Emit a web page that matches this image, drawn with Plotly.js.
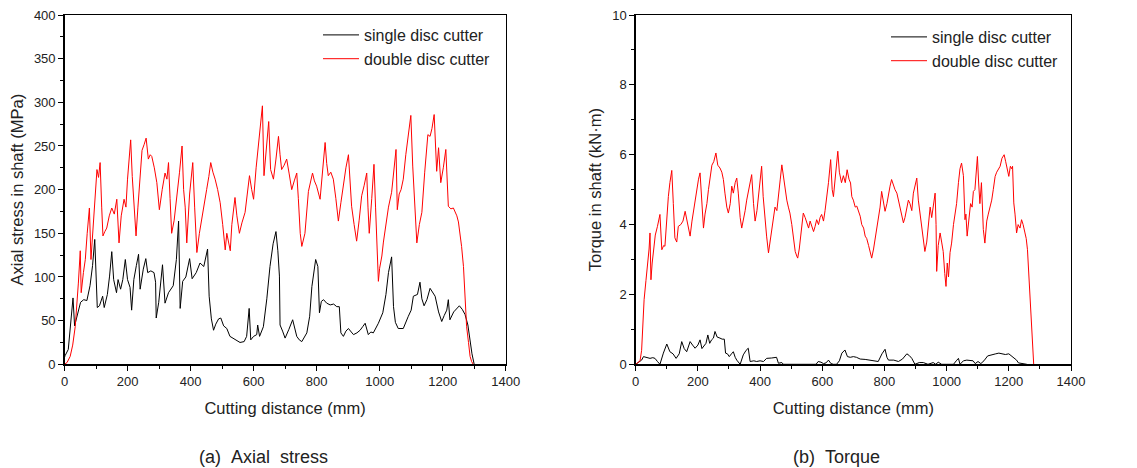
<!DOCTYPE html>
<html><head><meta charset="utf-8">
<script src="https://cdn.plot.ly/plotly-3.0.1.min.js"></script>
<style>html,body{margin:0;padding:0;background:#fff}#chart{width:1137px;height:468px}</style>
</head><body><div id="chart"></div>
<script>
// (a) Axial stress — single disc cutter
const stressSingleX = [0,2,12,20,27,32,42,51,61,71,81,89,96,101,104,111,121,126,136,143,150,156,165,170,178,185,193,200,208,213,220,228,235,240,250,258,264,274,284,289,291,299,311,319,330,345,355,362,367,375,385,397,405,418,430,442,454,459,466,473,480,489,496,505,515,525,541,557,570,578,586,591,600,610,613,619,631,642,652,662,671,677,682,684,692,700,712,724,737,745,753,769,778,785,797,804,809,815,822,832,843,854,864,872,877,885,893,901,910,917,928,938,946,954,964,972,980,996,1010,1020,1028,1038,1044,1050,1059,1075,1091,1100,1107,1120,1128,1134,1141,1150,1160,1168,1176,1187,1197,1205,1213,1218,1223,1235,1245,1253,1262,1271,1280,1287,1293,1300];
const stressSingleY = [8,10,17,45,76,44,59,71,74,73,90,113,143,101,65,67,78,65,80,101,129,97,82,97,86,97,120,97,88,62,97,113,126,86,109,121,105,107,105,94,53,71,114,70,82,90,120,164,64,95,100,121,98,105,116,112,132,78,52,39,46,52,53,44,41,32,28,25,26,32,64,28,32,34,45,32,43,75,112,138,152,130,101,45,38,30,40,51,32,28,26,36,55,89,120,112,59,72,74,70,68,69,66,66,36,32,38,41,37,34,36,39,43,47,34,37,36,47,59,80,105,123,66,48,41,41,55,62,78,80,94,75,67,74,87,82,78,60,49,56,62,74,51,60,64,67,63,57,45,24,12,0];
// (a) Axial stress — double disc cutter
const stressDoubleX = [0,8,18,26,34,40,44,50,53,60,66,72,79,84,92,103,108,113,118,122,128,134,142,150,158,166,173,180,189,195,200,205,210,215,219,227,233,240,246,253,259,266,272,277,285,293,301,310,319,325,330,335,340,348,356,365,373,378,383,388,397,407,413,420,428,436,444,451,458,464,471,478,486,494,502,510,515,520,526,531,536,541,547,555,563,573,580,587,594,600,608,615,622,628,633,641,648,654,663,671,679,684,689,697,705,713,721,729,737,742,748,753,758,763,774,781,787,793,800,811,819,827,832,837,845,853,861,869,877,885,893,901,906,911,919,927,935,943,951,959,963,967,975,982,987,991,996,1000,1007,1012,1018,1028,1038,1046,1052,1056,1062,1068,1075,1083,1091,1099,1105,1112,1118,1126,1134,1143,1153,1160,1166,1173,1181,1187,1194,1202,1210,1218,1226,1234,1240,1245,1250,1255,1260,1266,1271,1276,1282,1287,1292,1297];
const stressDoubleY = [0,2,9,22,43,70,93,130,82,105,120,150,179,120,160,223,214,231,180,147,152,156,170,179,172,189,139,170,189,180,212,235,257,215,189,147,180,219,245,252,259,235,240,238,225,208,177,200,219,212,231,190,150,165,189,220,250,200,180,139,195,231,180,128,150,166,185,200,215,231,220,212,200,185,160,131,150,140,130,160,177,191,170,150,162,174,195,216,200,189,225,250,270,296,216,250,278,223,212,235,261,240,223,228,235,218,200,210,219,190,150,135,142,150,198,210,219,210,204,189,225,254,230,216,220,212,190,164,185,206,225,240,210,181,160,141,165,193,205,219,180,150,190,229,180,131,95,110,124,140,154,180,197,230,246,177,195,200,212,240,260,285,227,180,139,160,174,220,263,261,270,286,221,248,208,225,246,181,178,179,175,170,163,151,135,112,80,43,25,9,3,0];
// (b) Torque — single disc cutter
const torqueSingleX = [
  0,19,25,35,46,55,62,70,78,89,
  100,110,120,130,140,148,156,164,170,175,
  183,191,200,207,213,218,226,232,238,244,
  250,255,262,271,278,285,289,295,301,308,
  314,320,325,336,346,355,362,368,380,389,
  400,411,421,437,453,459,470,475,580,587,
  596,604,612,620,628,636,646,655,663,673,
  681,690,700,710,722,738,754,768,780,792,
  802,808,813,830,845,858,872,880,888,898,
  912,925,940,957,965,973,984,1000,1022,1031,
  1038,1043,1054,1065,1075,1085,1092,1101,1110,1120,
  1132,1145,1158,1168,1178,1189,1200,1212,1225,1231,
  1240,1249,1258];
const torqueSingleY = [
  0,0.12,0.22,0.2,0.17,0.19,0.17,0.08,0,0.32,
  0.58,0.36,0.3,0.17,0.3,0.65,0.45,0.36,0.5,0.65,
  0.55,0.46,0.55,0.7,0.45,0.51,0.6,0.84,0.6,0.7,
  0.75,0.94,0.78,0.75,0.72,0.72,0.32,0.3,0.22,0.3,
  0.36,0.2,0.12,0,0.27,0.4,0.46,0.08,0.1,0.08,
  0.1,0.08,0.17,0.18,0.2,0.03,0.05,0,0,0.08,
  0.06,0.02,0.04,0.12,0.02,0,0,0.1,0.32,0.41,
  0.22,0.2,0.22,0.2,0.15,0.14,0.12,0.1,0.08,0.3,
  0.43,0.2,0.12,0.12,0.08,0.15,0.3,0.25,0.17,0,
  0.05,0.05,0,0.05,0,0.06,0,0,0,0.1,
  0.17,0,0.1,0.12,0.12,0.1,0.02,0.08,0.02,0.1,
  0.24,0.26,0.3,0.32,0.3,0.28,0.3,0.2,0.12,0.04,
  0.02,0.02,0];
// (b) Torque — double disc cutter
const torqueDoubleX = [
  0,8,14,19,27,33,38,43,46,49,
  53,57,63,70,78,84,90,94,100,105,
  110,116,121,126,132,137,145,152,159,165,
  170,175,181,186,191,196,202,207,213,218,
  223,229,234,239,245,251,258,264,271,277,
  282,287,293,298,304,309,314,320,325,330,
  336,341,346,352,357,362,368,373,379,384,
  390,395,400,405,410,416,421,427,432,437,
  443,448,454,459,465,470,475,480,486,491,
  496,502,507,513,518,521,526,532,539,545,
  550,556,561,566,572,577,582,588,593,598,
  604,609,614,620,627,632,636,641,646,650,
  655,662,668,674,680,686,691,695,700,706,
  711,717,722,727,733,738,743,749,754,759,
  765,770,775,781,786,791,797,802,808,813,
  818,823,829,834,840,845,850,856,861,866,
  872,877,882,888,893,898,904,909,914,920,
  925,930,936,941,947,952,957,963,966,968,
  973,979,984,989,994,998,1002,1006,1011,1016,
  1022,1027,1032,1038,1043,1048,1054,1059,1062,1066,
  1072,1077,1082,1086,1091,1095,1099,1103,1107,1112,
  1116,1118,1123,1129,1134,1140,1145,1150,1156,1161,
  1167,1172,1178,1185,1190,1195,1200,1205,1209,1212,
  1216,1220,1225,1230,1236,1241,1246,1252,1256,1260,
  1264,1268,1272,1276,1280];
const torqueDoubleY = [
  0,0.05,0.1,0.4,1.85,2.4,2.8,3.3,3.76,2.42,
  2.9,3.2,3.7,3.95,4.29,3.28,3.4,3.38,4.2,4.8,
  5.2,5.55,4.6,3.62,3.5,3.95,4.0,4.1,4.38,4.1,
  3.9,3.67,4.1,4.4,4.7,4.9,5.3,5.48,4.6,3.9,
  4.3,4.6,5.0,5.3,5.7,5.8,6.05,5.7,5.62,5.5,
  5.29,4.9,4.5,4.33,4.6,5.1,4.9,5.2,5.33,4.9,
  4.2,3.9,4.1,4.4,4.7,4.9,5.2,5.43,4.6,4.1,
  4.4,4.9,5.2,5.67,4.8,4.1,3.67,3.19,3.5,3.9,
  4.3,4.5,4.4,4.9,5.3,5.71,5.4,5.0,4.7,4.5,
  4.33,4.0,3.6,3.23,3.1,3.04,3.3,3.8,4.33,4.2,
  4.05,3.9,4.1,3.95,3.8,3.95,4.14,4.0,4.2,4.29,
  4.1,4.4,4.7,5.2,5.86,5.0,4.8,5.3,5.6,6.1,
  5.5,5.2,5.4,5.2,5.57,5.3,5.19,4.8,4.7,4.5,
  4.53,4.4,4.24,4.0,3.9,3.67,3.6,3.4,3.2,3.04,
  3.3,3.6,3.76,4.2,4.5,4.95,4.6,4.38,4.6,4.9,
  5.1,5.29,5.1,5.0,4.9,4.7,4.4,4.2,4.05,4.2,
  4.5,4.7,4.6,4.4,4.9,5.1,5.33,4.7,4.33,4.0,
  3.6,3.23,3.5,3.9,4.5,4.2,4.6,4.9,4.0,2.66,
  3.4,3.76,3.5,3.23,2.6,2.23,2.9,2.5,3.2,3.47,
  4.0,4.3,4.6,5.2,5.6,5.76,5.4,4.14,4.3,3.67,
  4.2,4.6,4.5,4.95,5.0,5.6,5.95,5.19,4.6,5.2,
  4.2,3.86,3.47,4.1,4.3,4.53,4.7,5.0,5.38,5.5,
  5.6,5.67,5.9,6.0,5.8,5.6,5.38,5.67,5.6,5.67,
  4.62,4.3,3.76,4.0,3.9,4.14,4.0,3.76,3.6,3.28,
  2.6,2.04,1.2,0.5,0];

const seriesNames = ['single disc cutter','double disc cutter'];
const xTitle = 'Cutting distance (mm)';
const yTitleA = 'Axial stress in shaft (MPa)';
const yTitleB = 'Torque in shaft (kN·m)';
const captions = ['(a)\u00a0\u00a0Axial\u00a0\u00a0stress','(b)\u00a0\u00a0Torque'];

const F = 'Arial, "Liberation Sans", sans-serif';
const traces = [
  {x: stressSingleX, y: stressSingleY, name: seriesNames[0], type:'scatter', mode:'lines', line:{color:'#000000', width:1}, xaxis:'x', yaxis:'y', legend:'legend'},
  {x: stressDoubleX, y: stressDoubleY, name: seriesNames[1], type:'scatter', mode:'lines', line:{color:'#ff0000', width:1}, xaxis:'x', yaxis:'y', legend:'legend'},
  {x: torqueSingleX, y: torqueSingleY, name: seriesNames[0], type:'scatter', mode:'lines', line:{color:'#000000', width:1}, xaxis:'x2', yaxis:'y2', legend:'legend2'},
  {x: torqueDoubleX, y: torqueDoubleY, name: seriesNames[1], type:'scatter', mode:'lines', line:{color:'#ff0000', width:1}, xaxis:'x2', yaxis:'y2', legend:'legend2'}
];
function xax(dom, anchor){
  return {domain: dom, anchor: anchor, range:[0,1400], dtick:200, tick0:0, ticks:'outside', ticklen:5, tickwidth:1, tickcolor:'#000',
    minor:{dtick:100, ticks:'outside', ticklen:3, tickcolor:'#000'},
    showline:true, linecolor:'#000', linewidth:1.3, mirror:true, showgrid:false, zeroline:false,
    tickfont:{family:F, size:13, color:'#222'},
    title:{text:xTitle, font:{family:F, size:16.5, color:'#222'}, standoff:14}};
}
function yax(dom, anchor, range, dtick, minor, title){
  return {domain: dom, anchor: anchor, range: range, dtick: dtick, tick0:0, ticks:'outside', ticklen:5, tickwidth:1, tickcolor:'#000',
    minor:{dtick:minor, ticks:'outside', ticklen:3, tickcolor:'#000'},
    showline:true, linecolor:'#000', linewidth:1.3, mirror:true, showgrid:false, zeroline:false,
    tickfont:{family:F, size:13, color:'#222'},
    title:{text:title, font:{family:F, size:16.5, color:'#222'}, standoff:6}};
}
const yd = [1-364.3/468, 1-15/468];
const layout = {
  width:1137, height:468, margin:{l:0,r:0,t:0,b:0}, paper_bgcolor:'#fff', plot_bgcolor:'#fff', showlegend:true,
  xaxis: xax([64.5/1137, 505.7/1137], 'y'),
  yaxis: yax(yd, 'x', [0,400], 50, 25, yTitleA),
  xaxis2: xax([635.7/1137, 1071/1137], 'y2'),
  yaxis2: yax(yd, 'x2', [0,10], 2, 1, yTitleB),
  legend: {x:318/1137, y:1-18/468, xanchor:'left', yanchor:'top', bgcolor:'rgba(0,0,0,0)', font:{family:F, size:16, color:'#222'}, tracegroupgap:0, itemwidth:36},
  legend2: {x:886/1137, y:1-20/468, xanchor:'left', yanchor:'top', bgcolor:'rgba(0,0,0,0)', font:{family:F, size:16, color:'#222'}, tracegroupgap:0, itemwidth:36},
  annotations: [
    {text:captions[0], xref:'paper', yref:'paper', x:263/1137, y:1-457/468, showarrow:false, font:{family:F, size:18, color:'#222'}, xanchor:'center', yanchor:'middle'},
    {text:captions[1], xref:'paper', yref:'paper', x:836/1137, y:1-457/468, showarrow:false, font:{family:F, size:18, color:'#222'}, xanchor:'center', yanchor:'middle'}
  ]
};
Plotly.newPlot('chart', traces, layout, {displayModeBar:false, staticPlot:true});
</script></body></html>
